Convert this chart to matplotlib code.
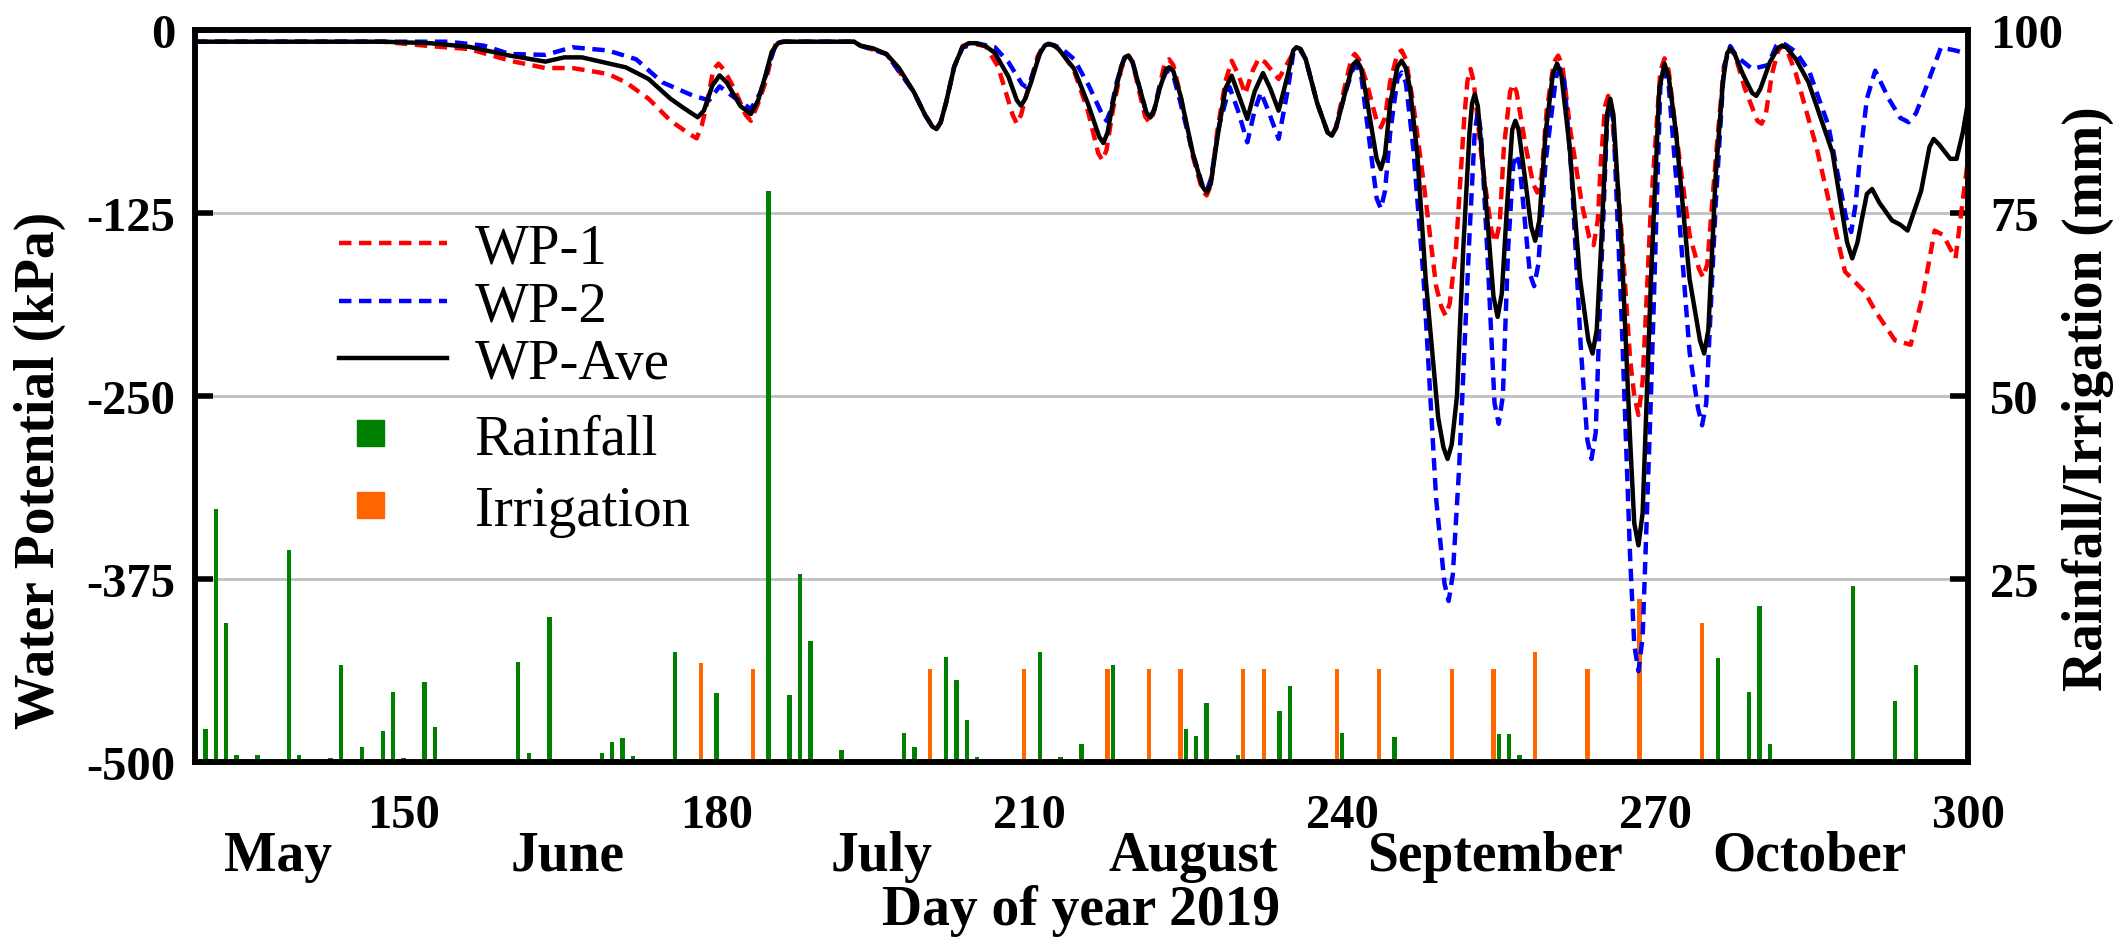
import matplotlib
matplotlib.use('Agg')
import matplotlib.pyplot as plt
from matplotlib.patches import Patch
from matplotlib.transforms import blended_transform_factory

plt.rcParams['font.family'] = ['Liberation Serif', 'DejaVu Serif']
plt.rcParams['font.weight'] = 'bold'
plt.rcParams['axes.unicode_minus'] = False

# ---- data: (day of year, water potential kPa) ----
ave_pts = [(130, -8), (148, -8), (152.5, -9), (156.3, -11.5), (160.2, -17.5), (163.6, -21.6), (165.4, -18.7),
           (167.1, -18.7), (171.3, -25.5), (173.5, -33.5), (175.6, -47), (176.8, -53), (178.2, -59.6),
           (178.8, -55), (179.6, -38), (180.3, -31), (181.0, -36), (182.3, -52), (183.3, -57.4), (184.0, -48),
           (184.7, -31), (185.3, -15), (185.9, -9), (186.5, -8), (193.2, -8), (193.8, -10.7), (195, -12.5),
           (196.3, -16.4), (197.5, -26), (198.9, -42), (200.0, -58), (200.7, -66), (201.1, -67.6), (201.5, -63),
           (202.0, -50), (202.8, -25), (203.6, -11.5), (204.2, -9), (204.9, -9), (205.8, -11), (206.7, -15.7),
           (208.0, -32), (208.8, -48), (209.2, -51.7), (209.6, -47), (210.2, -35), (211.0, -16), (211.5, -10.5),
           (211.9, -9.5), (212.4, -10.5), (212.8, -13), (214.3, -26.6), (215.6, -50), (216.7, -73), (217.1, -77.2),
           (217.5, -70), (218.0, -50), (218.8, -25), (219.2, -18.5), (219.5, -17.5), (219.9, -22), (220.4, -35),
           (221.2, -56), (221.6, -59.7), (222.0, -54), (222.5, -40), (223.1, -27), (223.4, -25.5), (223.8, -28),
           (224.5, -45), (225.7, -85), (226.6, -107), (227.0, -110.9), (227.4, -105), (228.0, -75), (228.8, -40),
           (229.4, -31.2), (230.1, -45), (230.9, -60.8), (231.6, -42), (232.4, -29.4), (233.1, -40),
           (233.9, -55.1), (234.8, -30), (235.3, -14), (235.6, -11.8), (236.0, -13), (236.5, -20), (237.6, -50),
           (238.6, -70), (239.0, -72.2), (239.4, -67), (240.2, -45), (241.0, -24), (241.4, -21), (241.8, -26),
           (242.3, -45), (243.3, -88), (243.7, -95), (244.1, -85), (244.6, -50), (245.3, -25), (245.7, -21),
           (246.1, -26), (246.5, -40), (247.2, -85), (248.0, -170), (249.2, -265), (249.7, -285), (250.1, -293),
           (250.5, -283), (251.0, -250), (251.6, -150), (252.2, -70), (252.45, -50), (252.7, -44), (253.0, -52),
           (253.7, -110), (254.5, -182), (254.9, -196), (255.3, -180), (255.8, -120), (256.3, -68), (256.6, -62),
           (256.9, -68), (257.5, -100), (258.1, -134), (258.5, -144), (258.9, -130), (259.5, -70), (260.2, -30),
           (260.6, -23), (261.0, -30), (261.8, -80), (262.8, -170), (263.6, -212), (264.0, -221), (264.4, -205),
           (264.8, -150), (265.4, -57), (265.7, -47), (266.0, -58), (266.8, -150), (267.6, -280), (268.0, -337),
           (268.4, -352), (268.8, -330), (269.6, -170), (270.4, -40), (270.9, -23), (271.3, -32), (272.0, -70),
           (273.3, -170), (274.3, -212), (274.7, -221), (275.1, -205), (275.8, -100), (276.5, -35), (276.9, -16),
           (277.2, -12.5), (277.6, -16), (278.4, -30), (279.3, -43), (279.7, -45), (280.1, -40), (281.0, -22),
           (281.8, -12), (282.2, -10.7), (282.6, -12), (283.5, -20), (284.7, -35.6), (287.0, -83.6),
           (288.4, -145), (288.9, -156), (289.4, -145), (289.8, -130), (290.3, -112), (290.8, -108.6),
           (291.5, -118), (292.7, -130), (293.5, -133), (294.2, -137), (295.5, -110), (296.3, -80),
           (296.7, -74.4), (297.2, -78), (298.3, -88), (298.9, -88), (299.5, -70), (300, -49)]

wp1_pts = [(130, -8), (148, -8), (152.5, -11), (156.3, -13), (160.2, -21), (163.6, -26), (166.2, -26),
           (169.6, -30), (171.3, -35.7), (173.5, -47), (175.6, -62), (177.4, -71), (178.1, -74), (178.6, -65),
           (179.1, -50), (179.7, -27), (180.2, -23), (180.7, -27), (181.7, -40), (182.8, -58), (183.3, -62),
           (184.0, -50), (184.7, -35.7), (185.3, -18), (185.7, -9), (186.3, -8), (193.2, -8), (193.8, -10.7),
           (196.3, -16.4), (198.9, -42), (200.0, -58), (200.7, -66), (201.1, -68), (201.5, -63), (202.0, -50),
           (202.8, -25), (203.6, -11), (204.3, -9), (205.8, -11), (207.0, -25), (208.4, -58), (208.8, -64),
           (209.2, -58), (209.7, -45), (210.8, -18), (211.4, -10.5), (211.8, -9.5), (212.3, -10.5), (213, -14),
           (214.3, -28), (215.6, -55), (216.6, -84), (217.0, -89), (217.4, -82), (218.0, -55), (218.8, -27),
           (219.2, -19), (219.5, -17.5), (219.9, -22), (220.4, -38), (221.1, -59), (221.5, -63), (221.9, -57),
           (222.5, -38), (223.0, -22), (223.4, -20), (223.8, -24), (224.5, -45), (225.7, -87), (226.6, -110),
           (227.0, -113), (227.4, -106), (228.0, -70), (228.8, -35), (229.4, -21), (230.0, -30), (230.7, -43.7),
           (231.4, -28), (232.0, -19.4), (232.6, -22), (233.9, -33.5), (234.8, -22), (235.6, -11.8), (236.0, -13),
           (236.5, -20), (237.6, -50), (238.6, -70), (239.0, -72), (239.4, -66), (240.2, -40), (240.9, -19),
           (241.2, -16.4), (241.6, -20), (242.3, -35), (243.3, -62), (243.7, -66.5), (244.1, -60), (244.6, -35),
           (245.3, -16), (245.7, -14), (246.1, -20), (246.8, -50), (247.8, -104), (249.0, -175), (249.5, -189),
           (249.9, -195), (250.3, -187), (250.9, -150), (251.7, -60), (252.0, -35), (252.3, -26.6), (252.6, -35),
           (253.4, -90), (254.3, -137), (254.7, -145), (255.1, -132), (255.5, -80), (256.1, -42), (256.4, -37),
           (256.7, -42), (257.6, -80), (258.3, -105), (258.7, -111), (259.1, -100), (259.6, -55), (260.3, -22),
           (260.7, -17.5), (261.1, -24), (261.9, -70), (263.0, -120), (263.7, -142), (264.1, -147), (264.5, -130),
           (264.8, -90), (265.2, -52), (265.5, -45), (265.8, -52), (266.8, -140), (267.6, -225), (268.0, -250),
           (268.4, -263), (268.8, -240), (269.6, -120), (270.5, -28), (270.9, -19.4), (271.3, -28), (272.0, -70),
           (273.3, -140), (274.2, -163), (274.6, -169), (275.0, -160), (275.9, -80), (276.6, -25), (277.2, -12.5),
           (277.7, -18), (278.6, -40), (279.8, -62), (280.2, -64), (280.6, -58), (281.2, -30), (281.8, -14),
           (282.2, -10.7), (282.6, -13), (283.5, -30), (285.5, -81), (288.2, -165), (290.1, -179), (291.2, -193),
           (293.0, -212), (294.5, -215), (295.7, -180), (296.8, -137), (297.6, -140), (298.8, -156), (300, -88)]

wp2_pts = [(130, -8), (150.3, -8), (154.3, -8), (157.7, -10.7), (160.2, -16.4), (163.6, -17), (166.2, -11.8),
           (169.6, -14), (172.3, -20), (174.8, -35.7), (177.8, -45), (179.3, -48), (180.3, -38.5), (181.5, -45),
           (183.3, -54), (184.2, -43), (185.0, -25), (185.7, -9), (186.3, -8), (193.2, -8), (193.8, -10.7),
           (196.3, -16.4), (198.9, -42), (200.0, -58), (200.7, -66), (201.1, -67.6), (201.5, -63), (202.0, -50),
           (202.8, -25), (203.6, -12), (204.9, -9), (206.7, -11.8), (208.0, -22), (209.3, -37), (209.7, -39),
           (210.1, -35), (210.7, -22), (211.3, -11), (211.8, -9.5), (212.3, -10.5), (213, -12), (214.3, -20),
           (215.7, -38), (217.0, -58), (217.4, -62), (217.8, -55), (218.4, -35), (219.1, -19), (219.5, -17.5),
           (219.9, -22), (220.4, -35), (221.2, -56), (221.6, -60), (222.0, -54), (222.5, -38), (223.1, -29),
           (223.4, -27.8), (223.8, -31), (224.5, -50), (225.7, -85), (226.6, -106), (227.0, -110), (227.4, -102),
           (228.2, -65), (229.2, -39), (230.0, -55), (230.9, -76.7), (231.6, -55), (232.2, -42.6), (232.9, -55),
           (233.9, -74.4), (234.8, -40), (235.3, -16), (235.6, -13), (236.0, -14), (236.5, -20), (237.6, -50),
           (238.6, -70), (239.0, -72), (239.4, -67), (240.2, -45), (241.0, -27), (241.4, -24.4), (241.8, -30),
           (242.5, -70), (243.3, -115), (243.7, -122), (244.1, -110), (244.6, -70), (245.3, -33), (245.7, -29),
           (246.1, -36), (246.8, -80), (247.8, -170), (249.0, -320), (249.8, -378), (250.2, -390), (250.6, -372),
           (251.2, -300), (252.2, -140), (252.7, -70), (253.0, -56), (253.3, -70), (253.9, -150), (254.6, -255),
           (255.0, -269), (255.4, -250), (255.9, -150), (256.4, -92), (256.7, -85), (257.0, -92), (257.5, -130),
           (258.0, -167), (258.4, -175), (258.8, -160), (259.5, -90), (260.5, -32), (260.9, -26.6), (261.3, -35),
           (262.0, -100), (262.9, -220), (263.5, -280), (263.9, -293), (264.3, -275), (264.8, -170), (265.4, -60),
           (265.7, -51.7), (266.0, -62), (266.8, -200), (267.6, -360), (268.0, -420), (268.4, -438),
           (268.8, -415), (269.6, -250), (270.5, -38), (270.9, -27.8), (271.3, -38), (272.0, -100),
           (273.3, -220), (274.1, -258), (274.5, -270), (274.9, -255), (275.8, -120), (276.6, -25), (277.2, -11),
           (277.8, -18), (279.3, -26.6), (280.8, -24), (281.6, -11), (282.0, -9), (282.5, -10), (283.5, -15),
           (284.8, -28.7), (286.6, -65), (288.3, -128), (288.8, -138), (289.2, -120), (289.6, -90), (290.3, -47),
           (291.1, -27.8), (292.4, -47), (293.5, -60), (294.3, -63), (295.0, -57), (295.8, -42.5), (297.4, -12),
           (298.8, -14), (300, -16.4)]

ave_day, ave_wp = zip(*ave_pts)
wp1_day, wp1_wp = zip(*wp1_pts)
wp2_day, wp2_wp = zip(*wp2_pts)

rain_day = [130, 131, 132, 133, 134, 136, 139, 140, 143, 144, 146, 148, 149, 150, 152, 153,
            161, 162, 163, 164, 165, 168, 169, 170, 171, 172, 176, 180, 185, 186, 187, 188, 189,
            192, 193, 197, 198, 199, 202, 203, 204, 205, 211, 213, 214, 215, 218, 225, 226, 227,
            230, 231, 234, 235, 240, 245, 246, 255, 256, 257, 259, 276, 279, 280, 281, 289, 293, 295]
rain_mm = [1, 4.5, 34.5, 19, 1, 1, 29, 1, 0.5, 13.3, 2, 4.3, 9.6, 0.5, 10.9, 4.8,
           13.7, 1.2, 0.3, 19.8, 0.3, 0.3, 1.2, 2.7, 3.3, 0.8, 15, 9.4, 78, 0.3, 9.2, 25.7, 16.5,
           1.7, 0.3, 0.3, 4, 2, 14.4, 11.2, 5.8, 0.7, 15, 0.7, 0.3, 2.5, 13.3, 4.5, 3.6, 8.1,
           1, 0.3, 6.9, 10.4, 4, 3.4, 0.3, 3.8, 3.8, 1, 0.3, 14.2, 9.6, 21.3, 2.5, 24, 8.3, 13.3]

irr_day = [178.5, 183.5, 200.5, 209.5, 217.5, 221.5, 224.5, 230.5, 232.5, 239.5, 243.5,
           250.5, 254.5, 258.5, 263.5, 268.5, 274.5]
irr_mm = [13.5, 12.7, 12.7, 12.7, 12.7, 12.7, 12.7, 12.7, 12.7, 12.7, 12.7,
          12.7, 12.7, 15, 12.7, 22.2, 19]

x_ticks = [150, 180, 210, 240, 270, 300]
wp_ticks = [0, -125, -250, -375, -500]
mm_ticks = [25, 50, 75, 100]
month_names = ['May', 'June', 'July', 'August', 'September', 'October']
month_pos = [138, 165.7, 195.8, 225.7, 254.6, 284.8]

# ---- figure ----
fig = plt.figure(figsize=(21.26, 9.45), dpi=100)
ax = fig.add_axes([0.0917, 0.1926, 0.834, 0.7746])
ax2 = ax.twinx()
ax.set_zorder(ax2.get_zorder() + 1)
ax.patch.set_visible(False)

ax2.bar(rain_day, rain_mm, width=0.42, color='#008000', zorder=2)
ax2.bar(irr_day, irr_mm, width=0.42, color='#ff6600', zorder=2)
ax2.set_ylim(0, 100)
ax2.set_yticks(mm_ticks)
ax2.set_axisbelow(True)
ax2.yaxis.grid(True, color='#c0c0c0', lw=2)

l1, = ax.plot(wp1_day, wp1_wp, color='red', lw=3.2, dashes=(2.8, 1.7), label='WP-1')
l2, = ax.plot(wp2_day, wp2_wp, color='blue', lw=3.2, dashes=(2.8, 1.7), label='WP-2')
l3, = ax.plot(ave_day, ave_wp, color='black', lw=3.2, label='WP-Ave')

ax.set_xlim(130, 300)
ax.set_ylim(-500, 0)
ax.set_xticks(x_ticks)
ax.set_yticks(wp_ticks)

for a in (ax, ax2):
    for s in a.spines.values():
        s.set_linewidth(4)
ax.tick_params(axis='y', direction='in', length=13, width=4, labelsize=35, pad=14)
ax.tick_params(axis='x', length=0, labelsize=35, pad=22)
ax2.tick_params(axis='y', direction='in', length=13, width=4, labelsize=35, pad=16)

tr = blended_transform_factory(ax.transData, ax.transAxes)
for name, pos in zip(month_names, month_pos):
    ax.text(pos, -0.128, name, transform=tr, ha='center', va='center', fontsize=40)
ax.text(0.5, -0.202, 'Day of year 2019', transform=ax.transAxes, ha='center', va='center', fontsize=40)

fig.text(40 / 2126, 0.502, 'Water Potential (kPa)', rotation=90, ha='center', va='center', fontsize=40)
fig.text(2088 / 2126, 0.578, 'Rainfall/Irrigation (mm)', rotation=90, ha='center', va='center', fontsize=40)

leg_font = {'family': 'Liberation Serif', 'weight': 'normal', 'size': 41}
leg1 = ax.legend(handles=[l1, l2, l3], loc='upper left', bbox_to_anchor=(339 / 2126, 0.763),
                 bbox_transform=fig.transFigure, frameon=False, prop=leg_font, borderpad=0,
                 handlelength=1.9, handletextpad=0.49, labelspacing=0.1, borderaxespad=0)
ax.add_artist(leg1)
rain_patch = Patch(color='#008000', label='Rainfall')
irr_patch = Patch(color='#ff6600', label='Irrigation')
ax.legend(handles=[rain_patch, irr_patch], loc='upper left', bbox_to_anchor=(357 / 2126, 0.561),
          bbox_transform=fig.transFigure, frameon=False, prop=leg_font, borderpad=0,
          handlelength=0.47, handleheight=0.33, handletextpad=1.6, labelspacing=0.34, borderaxespad=0)

fig.savefig('out.png', dpi=100)
